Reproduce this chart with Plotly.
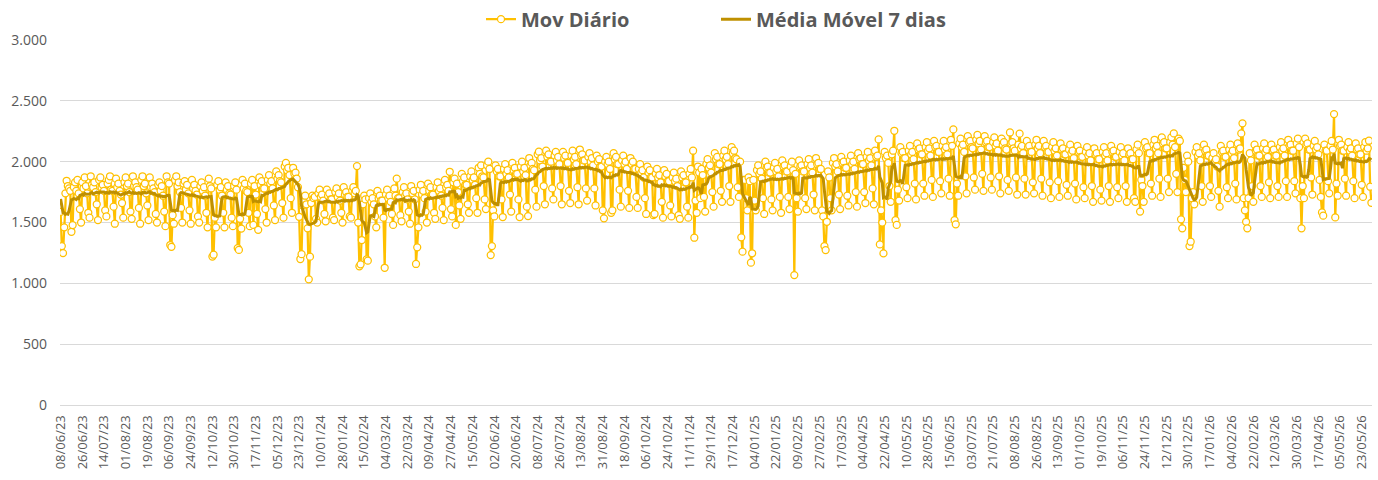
import pandas as pd
import plotly.graph_objects as go

# ---------------- DATA ----------------
inicio = "2023-06-08"

# 6 days before the first plotted day (02/06 - 07/06/23), only used to seed the 7-day moving average
mov_anterior = [1780, 1560, 1470, 1830, 1810, 1820]

# Daily values, one row per week (Mon..Sun)
mov_jun23_dez23 = [
    1588, 1306, 1248, 1460,                      # 08/06 Thu - 11/06 Sun
    1740, 1843, 1800, 1780, 1760, 1424, 1479,   # 12/06
    1790, 1830, 1760, 1850, 1740, 1610, 1500,   # 19/06
    1830, 1780, 1870, 1800, 1740, 1580, 1540,   # 26/06
    1880, 1810, 1790, 1830, 1750, 1650, 1520,   # 03/07
    1850, 1870, 1790, 1810, 1760, 1600, 1550,   # 10/07
    1820, 1850, 1880, 1770, 1760, 1630, 1490,   # 17/07
    1860, 1790, 1820, 1760, 1730, 1660, 1540,   # 24/07
    1830, 1870, 1800, 1820, 1750, 1590, 1530,   # 31/07
    1880, 1800, 1830, 1790, 1770, 1620, 1490,   # 07/08
    1850, 1880, 1800, 1820, 1740, 1640, 1520,   # 14/08
    1870, 1790, 1820, 1780, 1750, 1570, 1500,   # 21/08
    1810, 1830, 1760, 1800, 1720, 1590, 1470,   # 28/08
    1880, 1830, 1820, 1315, 1300, 1560, 1490,   # 04/09
    1850, 1880, 1800, 1830, 1750, 1620, 1500,   # 11/09
    1820, 1840, 1770, 1810, 1740, 1600, 1490,   # 18/09
    1850, 1780, 1810, 1760, 1730, 1550, 1500,   # 25/09
    1800, 1830, 1760, 1790, 1720, 1580, 1460,   # 02/10
    1860, 1800, 1780, 1220, 1235, 1540, 1460,   # 09/10
    1810, 1840, 1770, 1790, 1720, 1580, 1460,   # 16/10
    1830, 1770, 1800, 1740, 1730, 1540, 1470,   # 23/10
    1800, 1830, 1770, 1290, 1275, 1530, 1450,   # 30/10
    1850, 1780, 1820, 1760, 1750, 1580, 1470,   # 06/11
    1820, 1850, 1480, 1800, 1730, 1570, 1440,   # 13/11
    1870, 1810, 1840, 1780, 1780, 1610, 1500,   # 20/11
    1850, 1890, 1820, 1840, 1780, 1640, 1520,   # 27/11
    1920, 1860, 1890, 1840, 1830, 1660, 1540,   # 04/12
    1960, 1990, 1930, 1950, 1890, 1700, 1580,   # 11/12
    1950, 1900, 1910, 1860, 1790, 1547, 1200,   # 18/12
    1240, 1640, 1670, 1720, 1650, 1452, 1033,   # 25/12
]

mov_jan24_jan25 = [
    1219, 1660, 1720, 1700, 1710, 1530, 1500,   # 01/01/24
    1740, 1770, 1710, 1730, 1680, 1570, 1510,   # 08/01
    1770, 1720, 1740, 1690, 1690, 1540, 1520,   # 15/01
    1750, 1780, 1710, 1740, 1680, 1580, 1500,   # 22/01
    1790, 1730, 1750, 1710, 1710, 1550, 1540,   # 29/01
    1760, 1790, 1740, 1760, 1964, 1500, 1140,   # 05/02
    1156, 1356, 1650, 1720, 1690, 1197, 1186,   # 12/02
    1700, 1740, 1670, 1700, 1650, 1550, 1460,   # 19/02
    1760, 1700, 1720, 1680, 1680, 1540, 1128,   # 26/02
    1730, 1770, 1700, 1720, 1670, 1570, 1480,   # 04/03
    1780, 1720, 1860, 1700, 1700, 1560, 1510,   # 11/03
    1750, 1790, 1720, 1740, 1690, 1590, 1490,   # 18/03
    1800, 1740, 1760, 1690, 1159, 1296, 1460,   # 25/03
    1770, 1810, 1730, 1760, 1700, 1590, 1500,   # 01/04
    1820, 1760, 1790, 1730, 1730, 1580, 1530,   # 08/04
    1790, 1830, 1760, 1780, 1720, 1620, 1520,   # 15/04
    1850, 1790, 1810, 1760, 1917, 1610, 1550,   # 22/04
    1830, 1860, 1480, 1820, 1750, 1640, 1530,   # 29/04
    1900, 1840, 1870, 1810, 1810, 1650, 1580,   # 06/05
    1880, 1920, 1850, 1870, 1810, 1700, 1580,   # 13/05
    1950, 1900, 1970, 1880, 1870, 1690, 1610,   # 20/05
    1970, 2000, 1940, 1232, 1306, 1600, 1550,   # 27/05
    1970, 1920, 1940, 1880, 1880, 1690, 1545,   # 03/06
    1940, 1980, 1900, 1930, 1870, 1730, 1590,   # 10/06
    1990, 1930, 1950, 1900, 1900, 1690, 1545,   # 17/06
    1960, 2000, 1920, 1950, 1890, 1630, 1553,   # 24/06
    2030, 1970, 1990, 1940, 1930, 1770, 1630,   # 01/07
    2060, 2082, 2010, 2030, 1960, 1800, 1650,   # 08/07
    2090, 2040, 2060, 2000, 2000, 1780, 1690,   # 15/07
    2050, 2080, 2010, 2040, 1980, 1800, 1650,   # 22/07
    2080, 2030, 2050, 1990, 1990, 1760, 1660,   # 29/07
    2050, 2090, 2020, 2040, 1980, 1790, 1650,   # 05/08
    2100, 2050, 2060, 2010, 2010, 1780, 1680,   # 12/08
    2040, 2070, 2000, 2030, 1970, 1780, 1640,   # 19/08
    2050, 2000, 2020, 1960, 1960, 1600, 1534,   # 26/08
    2000, 2040, 1980, 2000, 1940, 1580, 1600,   # 02/09
    2070, 2020, 2040, 1980, 1980, 1770, 1630,   # 09/09
    2010, 2050, 1980, 2000, 1940, 1760, 1620,   # 16/09
    2030, 1980, 2000, 1940, 1940, 1710, 1620,   # 23/09
    1940, 1980, 1910, 1930, 1870, 1700, 1570,   # 30/09
    1960, 1910, 1930, 1870, 1870, 1560, 1570,   # 07/10
    1900, 1940, 1870, 1890, 1830, 1670, 1540,   # 14/10
    1930, 1880, 1900, 1840, 1840, 1640, 1550,   # 21/10
    1870, 1910, 1840, 1860, 1800, 1560, 1530,   # 28/10
    1920, 1870, 1890, 1830, 1830, 1630, 1540,   # 04/11
    1900, 1940, 1870, 2090, 1375, 1680, 1580,   # 11/11
    1960, 1910, 1700, 1940, 1890, 1710, 1590,   # 18/11
    1980, 2020, 1950, 1970, 1910, 1750, 1630,   # 25/11
    2070, 2020, 2040, 1980, 1980, 1760, 1670,   # 02/12
    2050, 2090, 2020, 2040, 1980, 1800, 1670,   # 09/12
    2120, 2070, 2090, 2030, 2020, 1790, 1710,   # 16/12
    2000, 1378, 1260, 1850, 1850, 1700, 1600,   # 23/12
    1870, 1840, 1170, 1247, 1850, 1680, 1600,   # 30/12
]

mov_jan25_jan26 = [
    1930, 1970, 1900, 1920, 1860, 1700, 1570,   # 06/01/25
    2000, 1950, 1960, 1910, 1910, 1690, 1600,   # 13/01
    1950, 1990, 1920, 1940, 1880, 1710, 1580,   # 20/01
    2010, 1960, 1970, 1920, 1920, 1710, 1610,   # 27/01
    1960, 2000, 1930, 1068, 1900, 1700, 1590,   # 03/02
    2010, 1960, 1970, 1920, 1920, 1700, 1610,   # 10/02
    1980, 2020, 1950, 1970, 1910, 1730, 1600,   # 17/02
    2030, 1980, 1990, 1940, 1940, 1600, 1550,   # 24/02
    1306, 1273, 1506, 1920, 1870, 1700, 1600,   # 03/03
    1990, 2030, 1960, 1980, 1920, 1730, 1610,   # 10/03
    2040, 1990, 2000, 1950, 1950, 1720, 1640,   # 17/03
    2010, 2050, 1980, 2000, 1940, 1750, 1630,   # 24/03
    2070, 2020, 2030, 1980, 1980, 1750, 1660,   # 31/03
    2040, 2080, 2010, 2030, 1970, 1780, 1650,   # 07/04
    2090, 2040, 2050, 2183, 1320, 1600, 1500,   # 14/04
    1246, 2080, 2030, 2050, 1990, 1800, 1670,   # 21/04
    2060, 2090, 2254, 1520, 1480, 1770, 1680,   # 28/04
    2120, 2070, 2080, 2030, 2030, 1790, 1700,   # 05/05
    2090, 2130, 2060, 2080, 2020, 1820, 1690,   # 12/05
    2150, 2100, 2110, 2060, 2060, 1820, 1720,   # 19/05
    2120, 2160, 2090, 2110, 2050, 1850, 1710,   # 26/05
    2170, 2120, 2130, 2080, 2080, 1840, 1740,   # 02/06
    2130, 2170, 2100, 2120, 2060, 1860, 1720,   # 09/06
    2180, 2130, 2265, 1520, 1485, 1820, 1720,   # 16/06
    2150, 2190, 2120, 2140, 2080, 1880, 1740,   # 23/06
    2210, 2160, 2170, 2120, 2110, 1870, 1770,   # 30/06
    2180, 2220, 2150, 2170, 2100, 1900, 1760,   # 07/07
    2210, 2160, 2170, 2120, 2120, 1870, 1770,   # 14/07
    2160, 2200, 2130, 2150, 2090, 1880, 1740,   # 21/07
    2190, 2140, 2160, 2110, 2100, 1850, 1760,   # 28/07
    2240, 2150, 2160, 2110, 2090, 1870, 1730,   # 04/08
    2140, 2230, 2110, 2130, 2070, 1860, 1730,   # 11/08
    2170, 2120, 2130, 2080, 2080, 1830, 1740,   # 18/08
    2140, 2180, 2110, 2130, 2070, 1860, 1720,   # 25/08
    2170, 2120, 2130, 2080, 2080, 1830, 1700,   # 01/09
    2120, 2160, 2090, 2110, 2050, 1840, 1710,   # 08/09
    2150, 2100, 2110, 2060, 2060, 1810, 1720,   # 15/09
    2100, 2140, 2070, 2090, 2030, 1820, 1690,   # 22/09
    2130, 2080, 2090, 2040, 2040, 1790, 1700,   # 29/09
    2080, 2120, 2050, 2070, 2010, 1800, 1670,   # 06/10
    2110, 2060, 2070, 2020, 2020, 1770, 1680,   # 13/10
    2080, 2120, 2050, 2070, 2010, 1800, 1670,   # 20/10
    2130, 2080, 2090, 2040, 2040, 1790, 1700,   # 27/10
    2080, 2120, 2050, 2070, 2010, 1800, 1670,   # 03/11
    2110, 2060, 2070, 2020, 2020, 1700, 1670,   # 10/11
    2100, 2140, 2070, 1590, 1850, 1800, 1670,   # 17/11
    2160, 2110, 2120, 2070, 2070, 1820, 1720,   # 24/11
    2140, 2180, 2110, 2130, 2070, 1860, 1710,   # 01/12
    2200, 2150, 2160, 2110, 2110, 1860, 1750,   # 08/12
    2160, 2200, 2140, 2232, 2120, 1900, 1750,   # 15/12
    2190, 2170, 1526, 1452, 1950, 1850, 1750,   # 22/12
    2050, 2000, 1306, 1342, 1700, 1750, 1650,   # 29/12
]

mov_jan26_mai26 = [
    2080, 2120, 2050, 2070, 2010, 1800, 1670,   # 05/01/26
    2140, 2090, 2100, 2050, 2050, 1800, 1710,   # 12/01
    2030, 2070, 2000, 2020, 1960, 1760, 1630,   # 19/01
    2130, 2080, 2090, 2040, 2040, 1790, 1700,   # 26/01
    2100, 2140, 2070, 2090, 2030, 1820, 1690,   # 02/02
    2150, 2100, 2110, 2232, 2315, 1700, 1600,   # 09/02
    1506, 1452, 1700, 2070, 2010, 1800, 1670,   # 16/02
    2140, 2090, 2100, 2050, 2050, 1800, 1710,   # 23/02
    2110, 2150, 2080, 2100, 2040, 1830, 1700,   # 02/03
    2140, 2090, 2100, 2050, 2050, 1800, 1710,   # 09/03
    2120, 2160, 2090, 2110, 2050, 1840, 1710,   # 16/03
    2180, 2130, 2140, 2090, 2090, 1840, 1740,   # 23/03
    2150, 2190, 2120, 1700, 1452, 1800, 1700,   # 30/03
    2190, 2140, 2150, 2100, 2100, 1870, 1730,   # 06/04
    2130, 2170, 2100, 2120, 2060, 1850, 1710,   # 13/04
    1583, 1556, 2140, 2090, 2090, 1840, 1740,   # 20/04
    2130, 2170, 2100, 2391, 1542, 1820, 1720,   # 27/04
    2180, 2130, 2140, 2090, 2090, 1860, 1720,   # 04/05
    2120, 2160, 2090, 2110, 2050, 1840, 1700,   # 11/05
    2150, 2100, 2110, 2060, 2060, 1810, 1710,   # 18/05
    2120, 2160, 2090, 2110, 2172, 1794, 1662,   # 25/05
]

nome_diario = "Mov Diário"
nome_media = "Média Móvel 7 dias"

# ---------------- BUILD ----------------
mov_diario = mov_jun23_dez23 + mov_jan24_jan25 + mov_jan25_jan26 + mov_jan26_mai26
datas = pd.date_range(inicio, periods=len(mov_diario), freq="D")
serie = pd.Series(mov_anterior + mov_diario, dtype=float)
media_movel = serie.rolling(7).mean().iloc[len(mov_anterior):].round(1).tolist()

tick_datas = list(datas[::18])
tick_textos = [d.strftime("%d/%m/%y") for d in tick_datas]

amarelo = "#FFC000"
ouro = "#BF9000"
cinza = "#595959"
grade = "#D9D9D9"
fonte = "Open Sans"

fig = go.Figure()
fig.add_trace(go.Scatter(
    x=datas, y=mov_diario, mode="lines+markers", name=nome_diario,
    line=dict(color=amarelo, width=2.25),
    marker=dict(symbol="circle", size=7, color="white",
                line=dict(color=amarelo, width=1.25)),
))
fig.add_trace(go.Scatter(
    x=datas, y=media_movel, mode="lines", name=nome_media,
    line=dict(color=ouro, width=3),
))

meio_dia = pd.Timedelta(hours=12)
fig.update_layout(
    width=1378, height=480,
    margin=dict(l=60, r=6, t=40, b=75, autoexpand=False),
    paper_bgcolor="white", plot_bgcolor="white",
    separators=",.",
    font=dict(family=fonte, color=cinza),
    showlegend=True,
    legend=dict(
        orientation="h", x=0.5, xanchor="center",
        yref="container", y=0.96, yanchor="middle",
        font=dict(family=fonte, size=20, color=cinza, weight="bold"),
        entrywidth=190, entrywidthmode="pixels",
        bgcolor="rgba(0,0,0,0)",
    ),
    xaxis=dict(
        type="date", automargin=False,
        range=[datas[0] - meio_dia, datas[-1] + meio_dia],
        tickmode="array", tickvals=tick_datas, ticktext=tick_textos,
        tickangle=-90, tickfont=dict(size=13, color=cinza, family=fonte),
        showgrid=False, showline=True, linecolor=grade, linewidth=1,
        ticks="", ticklabelstandoff=4, zeroline=False,
    ),
    yaxis=dict(
        automargin=False,
        range=[0, 3000], dtick=500, tickformat=",",
        tickfont=dict(size=14, color=cinza, family=fonte),
        showgrid=True, gridcolor=grade, gridwidth=1,
        zeroline=False, showline=False, ticks="",
        ticklabelstandoff=12,
    ),
)

fig.write_html(
    "out.html",
    config={"displayModeBar": False},
    post_script="document.body.style.margin='0px';",
)
